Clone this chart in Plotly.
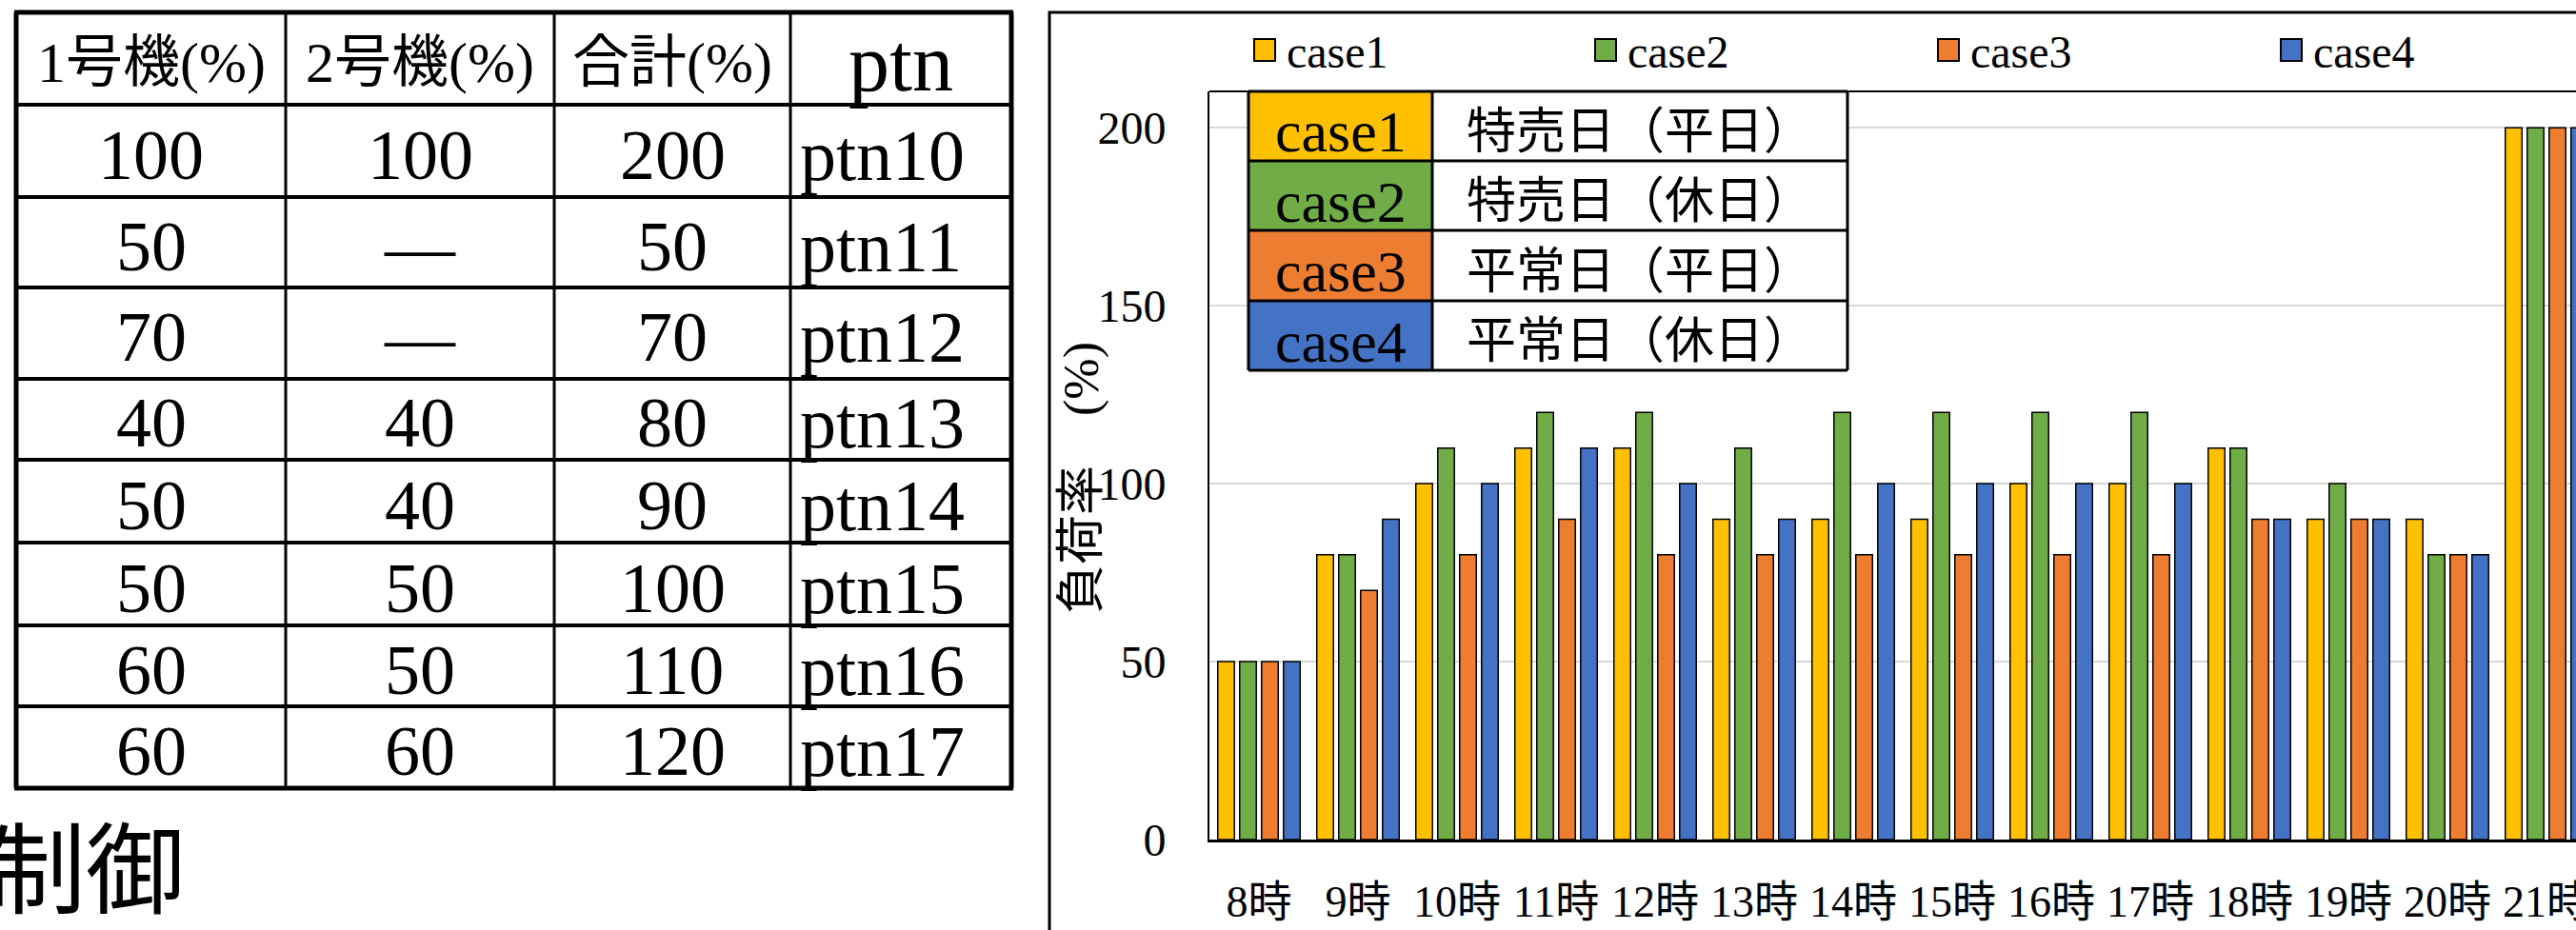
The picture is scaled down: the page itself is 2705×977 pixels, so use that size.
import plotly.graph_objects as go

# ---------------- data ----------------
hours = ["8時", "9時", "10時", "11時", "12時", "13時", "14時",
         "15時", "16時", "17時", "18時", "19時", "20時", "21時"]

case_names = ["case1", "case2", "case3", "case4"]
case_desc = ["特売日（平日）", "特売日（休日）", "平常日（平日）", "平常日（休日）"]

case1 = [50, 80, 100, 110, 110, 90, 90, 90, 100, 100, 110, 90, 90, 200]
case2 = [50, 80, 110, 120, 120, 110, 120, 120, 120, 120, 110, 100, 80, 200]
case3 = [50, 70, 80, 90, 80, 80, 80, 80, 80, 80, 90, 90, 80, 200]
case4 = [50, 90, 100, 110, 100, 90, 100, 100, 100, 100, 90, 90, 80, 200]

y_ticks = [0, 50, 100, 150, 200]

table_header = ["1号機(%)", "2号機(%)", "合計(%)", "ptn"]
unit1 = [100, 50, 70, 40, 50, 50, 60, 60]
unit2 = [100, None, None, 40, 40, 50, 50, 60]
total = [200, 50, 70, 80, 90, 100, 110, 120]
ptn = ["ptn10", "ptn11", "ptn12", "ptn13", "ptn14", "ptn15", "ptn16", "ptn17"]

footer_text = "制御"

# ---------------- styling ----------------
colors = ["#FFC000", "#70AD47", "#ED7D31", "#4472C4"]
SERIF = "Liberation Serif, Noto Sans CJK JP"
CJK = "Noto Sans CJK JP"

W, H = 2705, 977
PLOT_L, PLOT_R, PLOT_T, PLOT_B = 1270, 2705, 96, 882
Y_MAX = 210.2
X_END = -0.5 + (PLOT_R - PLOT_L) / 104.0


def px(x):
    return (x - PLOT_L) / (PLOT_R - PLOT_L)


def py(y):
    return (PLOT_B - y) / (PLOT_B - PLOT_T)


fig = go.Figure()
for name, vals, col in zip(case_names, [case1, case2, case3, case4], colors):
    fig.add_trace(go.Bar(
        x=hours, y=vals, name=name, showlegend=False,
        marker=dict(color=col, line=dict(color="black", width=1.5)),
    ))

shapes = []
annotations = []


def line(x0, y0, x1, y1, width, color="black"):
    shapes.append(dict(type="line", xref="paper", yref="paper",
                       x0=px(x0), y0=py(y0), x1=px(x1), y1=py(y1),
                       line=dict(color=color, width=width), layer="above"))


def rect(x0, y0, x1, y1, fill, width=0, color="black"):
    shapes.append(dict(type="rect", xref="paper", yref="paper",
                       x0=px(x0), y0=py(y0), x1=px(x1), y1=py(y1),
                       fillcolor=fill, line=dict(color=color, width=width),
                       layer="above"))


def text(x, y, s, size, family=SERIF, xanchor="center", angle=0):
    annotations.append(dict(xref="paper", yref="paper", x=px(x), y=py(y),
                            text=s, showarrow=False, xanchor=xanchor,
                            yanchor="middle", textangle=angle,
                            font=dict(family=family, size=size, color="black")))


# chart frame (runs off the right and bottom edges)
shapes.append(dict(type="rect", xref="paper", yref="paper",
                   x0=px(1102), y0=py(13), x1=px(2800), y1=py(1100),
                   line=dict(color="black", width=3), layer="below"))

# plot-area top border
line(PLOT_L, PLOT_T, PLOT_R, PLOT_T, 2)

# legend row along the top
leg_x = [1317, 1675, 2035, 2395]
for lx, name, col in zip(leg_x, case_names, colors):
    rect(lx, 41, lx + 22, 64, col, width=2)
    text(lx + 32, 54, name, 48, xanchor="left")

# case description box over the plot
LT_X = [1311, 1504, 1940]
LT_Y = [96, 169, 242, 316, 389]
for i, (name, desc, col) in enumerate(zip(case_names, case_desc, colors)):
    y0, y1 = LT_Y[i], LT_Y[i + 1]
    rect(LT_X[0], y0, LT_X[1], y1, col)
    rect(LT_X[1], y0, LT_X[2], y1, "white")
    text((LT_X[0] + LT_X[1]) / 2, (y0 + y1) / 2 + 6, name, 62)
    text((LT_X[1] + LT_X[2]) / 2, (y0 + y1) / 2 + 1, desc, 52, family=CJK)
for yy in LT_Y:
    line(LT_X[0], yy, LT_X[2], yy, 3)
for xx in LT_X:
    line(xx, LT_Y[0], xx, LT_Y[-1], 3)

# y-axis title
text(1136, 502, "負荷率　(%)", 52, angle=-90)

# operating pattern table
TBL_X = [17, 300, 582, 830, 1062]
TBL_Y = [13, 110, 207, 302, 398, 483, 570, 657, 742, 828]
for j, yy in enumerate(TBL_Y):
    w = 5 if j in (0, len(TBL_Y) - 1) else 4
    line(TBL_X[0] - 2, yy, TBL_X[-1] + 2, yy, w)
for j, xx in enumerate(TBL_X):
    w = 5 if j in (0, len(TBL_X) - 1) else 3
    line(xx, TBL_Y[0], xx, TBL_Y[-1], w)

for c, head in enumerate(table_header):
    cx = (TBL_X[c] + TBL_X[c + 1]) / 2
    text(cx, 66, head, 86 if head == "ptn" else 60)

for r in range(len(ptn)):
    cy = (TBL_Y[r + 1] + TBL_Y[r + 2]) / 2 + 4
    cells = [unit1[r], unit2[r], total[r]]
    for c, v in enumerate(cells):
        cx = (TBL_X[c] + TBL_X[c + 1]) / 2
        text(cx, cy, "—" if v is None else str(v), 74)
    text(TBL_X[3] + 8, cy, ptn[r], 76, xanchor="left")

# heading fragment below the table
text(196, 906, footer_text, 104, family=CJK, xanchor="right")

fig.update_layout(
    width=W, height=H,
    margin=dict(l=PLOT_L, r=W - PLOT_R, t=PLOT_T, b=H - PLOT_B, autoexpand=False),
    paper_bgcolor="white", plot_bgcolor="white",
    barmode="group", bargap=0.115, bargroupgap=0.24,
    showlegend=False,
    shapes=shapes, annotations=annotations,
    font=dict(family=SERIF, color="black"),
)
fig.update_xaxes(
    type="category", range=[-0.5, X_END], automargin=False,
    showline=True, linecolor="black", linewidth=3,
    showgrid=False, ticks="", ticklabelstandoff=23,
    ticklabeloverflow="allow",
    tickfont=dict(family=SERIF, size=46, color="black"),
)
fig.update_yaxes(
    range=[0, Y_MAX], automargin=False,
    tickvals=y_ticks, ticks="", ticklabelstandoff=34,
    showline=True, linecolor="black", linewidth=2,
    showgrid=True, gridcolor="#D9D9D9", gridwidth=2, zeroline=False,
    tickfont=dict(family=SERIF, size=48, color="black"),
)

fig.write_html("out.html")
